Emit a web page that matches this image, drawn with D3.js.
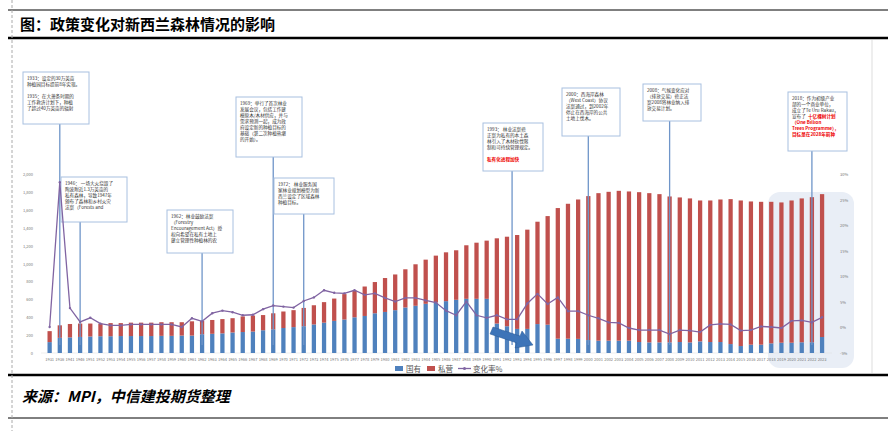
<!DOCTYPE html>
<html><head><meta charset="utf-8">
<script src="https://cdn.jsdelivr.net/npm/d3@7"></script>
<style>body{margin:0;background:#fff}</style></head>
<body><svg id="c" width="888" height="431"></svg>
<script>
const years=["1931","1936","1941","1946"];for(let y=1951;y<=2023;y++)years.push(String(y));
const stateVals=[122,170,175,180,185,188,188,190,190,190,190,192,192,195,195,210,215,220,230,235,240,255,265,280,290,300,320,340,360,375,400,415,445,460,480,510,529,551,566,581,596,607,607,607,330,300,270,270,324,317,160,160,158,145,138,138,138,138,123,119,119,119,123,119,130,123,123,100,78,93,93,108,115,115,120,120,179];
const totalVals=[245,310,325,330,330,330,335,335,340,340,340,345,345,345,355,360,370,380,390,410,420,425,445,465,480,505,535,570,610,660,700,745,795,840,880,938,994,1046,1091,1128,1151,1207,1236,1259,1285,1303,1322,1382,1471,1534,1624,1672,1720,1758,1791,1806,1817,1810,1802,1791,1780,1754,1743,1732,1709,1709,1720,1724,1709,1698,1694,1694,1687,1709,1732,1746,1780];
const privateVals=totalVals.map((t,i)=>t-stateVals[i]);
const changeVals=[0.1,28.5,3.8,1.1,1.9,0.75,0.4,0.4,0.6,0.6,0.6,0.6,0.6,0.1,1.8,1.2,2.8,3.3,3.0,2.4,2.5,3.6,4.3,4.1,3.9,5.2,5.9,7.3,6.8,6.7,7.3,6.4,6.7,5.8,5.1,5.8,5.8,5.3,4.9,3.3,2.4,5.1,2.4,1.9,2.4,1.6,1.6,4.7,6.6,4.6,5.9,3.2,3.2,2.4,1.8,1.0,0.9,-0.1,-0.5,-0.5,-0.5,-1.3,-0.5,-0.6,-0.9,0.5,0.7,0.6,-0.6,-0.5,0.2,0.1,-0.1,1.3,1.4,1.0,2.0];
const leftTicks=[0,200,400,600,800,1000,1200,1400,1600,1800,2000];
const rightTicks=[-5,0,5,10,15,20,25,30];
const notes=[
 {year:"1936",box:[23,72,66,52],lines:["1933：设定的30万英亩","种植园目标提前8年实现。","","1935：在大萧条时期的","工作救济计划下，种植","了超过40万英亩的辐射"],red:[]},
 {year:"1946",box:[61,177,66,45],lines:["1946： 一场大火烧毁了","陶波附近1.3万英亩的","私有森林，导致1947年","颁布了森林和乡村火灾","法案（Forests and"],red:[]},
 {year:"1962",box:[167,210,66,43],lines:["1962：林业鼓励法案","（Forestry","Encouragement Act）授","权向希望在私有土地上","建立管理性种植林的农"],red:[]},
 {year:"1969",box:[236,97,66,60],lines:["1969：举行了首次林业","发展会议，包括工作建","模原木/木材供应，并与","需求预测一起，成为政","府设定新的种植目标的","基础（第二次种植热潮","的开始）。"],red:[]},
 {year:"1972",box:[274,178,60,36],lines:["1972： 林业服务国","家林业规划模型为新","西兰设定了区域森林","种植目标。"],red:[]},
 {year:"1993",box:[483,123,60,48],lines:["1993： 林业法案修","正案为私有的本土森","林引入了木材砍伐限","制和可持续管理规定。",""],red:["私有化进程加快"]},
 {year:"2000",box:[562,88,58,48],lines:["2000：西海岸森林","（West Coast）协议","法案通过，到2002年","停止在西海岸的公共","土地上伐木。"],red:[]},
 {year:"2008",box:[643,84,58,37],lines:["2008：气候变化应对","（排放交易）修正法","案2008将林业纳入排","放交易计划。"],red:[]},
 {year:"2022",box:[788,92,59,59],lines:["2018：作为初级产业","部的一个商业单位，","成立了Te Uru Rakau，","宣布了"],red:["十亿棵树计划","（One Billion","Trees Programme），","目标是在2028年前种"]}
];
const offs={"1936":0,"1993":0};
const svg=d3.select("#c");
const F="'Noto Sans CJK SC','DejaVu Sans',sans-serif";
// frame
svg.append("line").attr("x1",8).attr("x2",888).attr("y1",10).attr("y2",10).attr("stroke","#000").attr("stroke-width",1);
svg.append("line").attr("x1",8).attr("x2",888).attr("y1",38).attr("y2",38).attr("stroke","#000").attr("stroke-width",2.5);
svg.append("line").attr("x1",8).attr("x2",888).attr("y1",375).attr("y2",375).attr("stroke","#000").attr("stroke-width",2.5);
svg.append("line").attr("x1",8).attr("x2",888).attr("y1",418).attr("y2",418).attr("stroke","#000").attr("stroke-width",1);
svg.append("line").attr("x1",12).attr("x2",12).attr("y1",0).attr("y2",431).attr("stroke","#aaa").attr("stroke-dasharray","3,2");
svg.append("line").attr("x1",872).attr("x2",872).attr("y1",40).attr("y2",373).attr("stroke","#ddd");
svg.append("text").attr("x",20).attr("y",30).attr("font-family","'Noto Sans CJK SC'").attr("font-weight","bold").attr("font-size",15).text("图：政策变化对新西兰森林情况的影响");
svg.append("text").attr("x",22).attr("y",402).attr("font-family","'Noto Sans CJK SC'").attr("font-weight","bold").attr("font-style","italic").attr("font-size",15).text("来源：MPI，中信建投期货整理");
// scales
const x=d3.scaleBand().domain(years).range([41.6,830.1]).padding(0.58);
const y=d3.scaleLinear().domain([0,2000]).range([353,174.5]);
const y2=d3.scaleLinear().domain([-5,30]).range([353,174.5]);
svg.append("rect").attr("x",768).attr("y",192).attr("width",86).attr("height",176).attr("rx",12).attr("fill","#e9eef6");
// axes
const la=svg.append("g").attr("transform","translate(39,0)").call(d3.axisLeft(y).tickValues(leftTicks).tickFormat(d3.format(",")).tickSize(0));
const ra=svg.append("g").attr("transform","translate(833,0)").call(d3.axisRight(y2).tickValues(rightTicks).tickFormat(d=>d+"%").tickSize(0));
const xa=svg.append("g").attr("transform","translate(0,355)").call(d3.axisBottom(x).tickSize(0));
[la,ra,xa].forEach(g=>{g.select(".domain").remove();g.selectAll("text").attr("fill","#777").attr("font-size",4).attr("font-family",F);});
xa.selectAll("text").attr("dy",3);
la.selectAll("text").attr("dx",-3);
ra.selectAll("text").attr("dx",4);
svg.append("line").attr("x1",41).attr("x2",832).attr("y1",353).attr("y2",353).attr("stroke","#ddd").attr("stroke-width",0.5);
// bars
const bw=x.bandwidth();
svg.append("g").selectAll("rect").data(years).join("rect").attr("x",d=>x(d)).attr("width",bw)
 .attr("y",(d,i)=>y(stateVals[i])).attr("height",(d,i)=>y(0)-y(stateVals[i])).attr("fill","#4f81bd");
svg.append("g").selectAll("rect").data(years).join("rect").attr("x",d=>x(d)).attr("width",bw)
 .attr("y",(d,i)=>y(totalVals[i])).attr("height",(d,i)=>y(stateVals[i])-y(totalVals[i])).attr("fill","#c0504d");
// annotations
const cx=d=>x(d)+bw/2;
notes.forEach(n=>{
  const [bx,by,w,h]=n.box;
  const lx=n.year==="1993"?(cx("1992")+cx("1993"))/2:cx(n.year);
  svg.append("line").attr("x1",lx).attr("x2",lx).attr("y1",by+h).attr("y2",345).attr("stroke","#6f95c9").attr("stroke-width",1.3);
  svg.append("rect").attr("x",bx).attr("y",by).attr("width",w).attr("height",h).attr("fill","#fff").attr("stroke","#a8c0e0").attr("stroke-width",1);
  const t=svg.append("text").attr("font-family",F).attr("font-size",4.6).attr("fill","#333");
  let k=0;
  n.lines.forEach((l,i)=>{t.append("tspan").attr("x",bx+4).attr("y",by+8+k*6).text(l);if(!(n.year==="2022"&&i===3))k++;});
  n.red.forEach((l,i)=>{
    const ts=t.append("tspan").attr("fill","#e00").attr("font-weight","bold");
    if(n.year==="2022"&&i===0){ts.attr("x",bx+20).attr("y",by+8+3*6);k=4;} else {ts.attr("x",bx+4).attr("y",by+8+k*6);k++;}
    ts.text(l);
  });
});
// arrow
svg.append("path").attr("d","M493,327 L520,336 L522,331 L533,345 L515,348 L517,343 L490,334 Z").attr("fill","#3d74b8").attr("stroke","#2a5a94").attr("stroke-width",0.5);
// line
const line=d3.line().x(d=>cx(d[0])).y(d=>y2(d[1]));
const pts=years.map((d,i)=>[d,changeVals[i]]);
svg.append("path").datum(pts).attr("d",line).attr("fill","none").attr("stroke","#8064a2").attr("stroke-width",1.3);
svg.append("g").selectAll("circle").data(pts).join("circle").attr("cx",d=>cx(d[0])).attr("cy",d=>y2(d[1])).attr("r",1.2).attr("fill","#8064a2");
// legend
const lg=svg.append("g").attr("font-family",F).attr("font-size",7.5).attr("fill","#555");
lg.append("rect").attr("x",395).attr("y",366).attr("width",8).attr("height",5).attr("fill","#4f81bd");
lg.append("text").attr("x",406).attr("y",371.5).text("国有");
lg.append("rect").attr("x",427).attr("y",366).attr("width",8).attr("height",5).attr("fill","#c0504d");
lg.append("text").attr("x",438).attr("y",371.5).text("私营");
lg.append("line").attr("x1",458).attr("x2",471).attr("y1",368.5).attr("y2",368.5).attr("stroke","#8064a2").attr("stroke-width",1.3);
lg.append("circle").attr("cx",464.5).attr("cy",368.5).attr("r",1.5).attr("fill","#8064a2");
lg.append("text").attr("x",473).attr("y",371.5).text("变化率%");
</script></body></html>
